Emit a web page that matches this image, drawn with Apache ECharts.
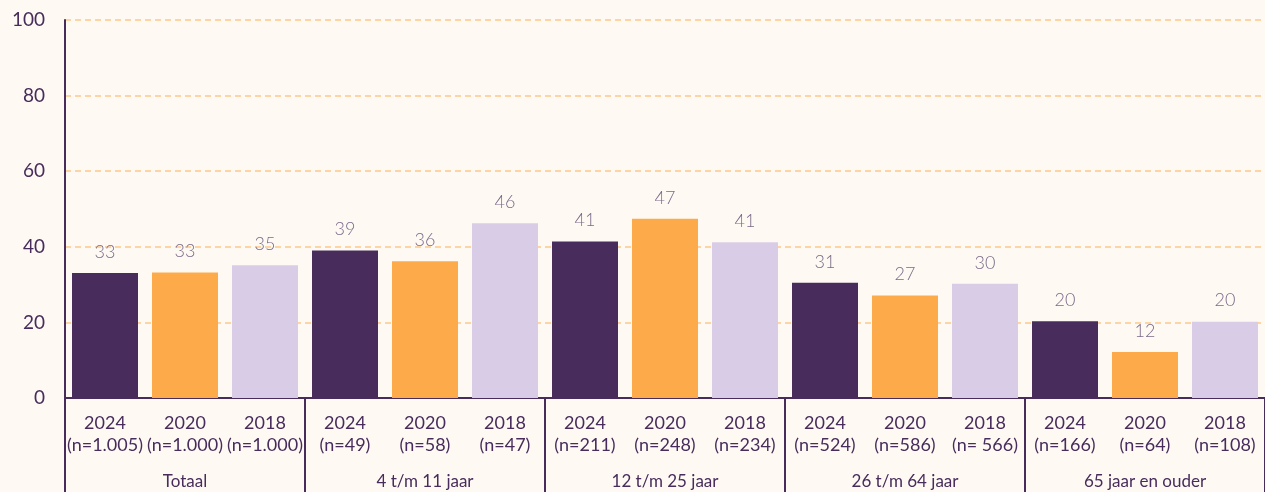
<!DOCTYPE html>
<html>
<head>
<meta charset="utf-8">
<script src="https://cdn.jsdelivr.net/npm/echarts@6/dist/echarts.min.js"></script>
<style>
  html, body { margin: 0; padding: 0; background: #fefaf3; }
  #chart { width: 1265px; height: 492px; }
</style>
</head>
<body>
<div id="chart"></div>
<script>
// jaren en steekproefgrootte per staaf
const years = ['2024', '2020', '2018', '2024', '2020', '2018', '2024', '2020', '2018', '2024', '2020', '2018', '2024', '2020', '2018'];
const sizes = ['1.005', '1.000', '1.000', '49', '58', '47', '211', '248', '234', '524', '586', ' 566', '166', '64', '108'];
// leeftijdsgroepen
const groups = ['Totaal', '4 t/m 11 jaar', '12 t/m 25 jaar', '26 t/m 64 jaar', '65 jaar en ouder'];
// percentages
const values = [33.1, 33.2, 35.1, 39.0, 36.2, 46.2, 41.4, 47.4, 41.2, 30.5, 27.1, 30.2, 20.3, 12.2, 20.2];
const yTicks = [0, 20, 40, 60, 80, 100];

const colors = ['#472c5c', '#fdab4a', '#d9cce7'];
const ink = '#472c5c';

const categories = years.map((y, i) => y + '\n(n=' + sizes[i] + ')');

let myChart = echarts.init(document.getElementById('chart'));

myChart.setOption({
    backgroundColor: '#fefaf3',
    textStyle: { fontFamily: 'Lato' },
    grid: { left: 65, right: 0, top: 20, bottom: 94 },
    xAxis: [
        {
            type: 'category',
            data: categories,
            axisLine: { lineStyle: { color: ink, width: 2 } },
            axisTick: { show: false },
            axisLabel: { color: ink, fontSize: 18, lineHeight: 22, margin: 14, interval: 0 }
        },
        {
            type: 'category',
            position: 'bottom',
            data: groups,
            axisLine: { show: false },
            axisTick: { show: true, length: 94, lineStyle: { color: ink, width: 2 } },
            axisLabel: { color: ink, fontSize: 17, margin: 75, interval: 0 }
        }
    ],
    yAxis: {
        type: 'value',
        min: yTicks[0],
        max: yTicks[yTicks.length - 1],
        interval: 20,
        axisLine: { show: true, lineStyle: { color: ink, width: 2 } },
        axisTick: { show: false },
        axisLabel: { color: ink, fontSize: 19, margin: 20 },
        splitLine: { lineStyle: { color: '#fdc98a', width: 1.5, type: [6, 4] } }
    },
    series: [
        {
            type: 'bar',
            xAxisIndex: 0,
            data: values,
            barWidth: 66,
            itemStyle: {
                color: p => colors[p.dataIndex % 3]
            },
            label: {
                show: true,
                position: 'top',
                distance: 12,
                color: '#7a6a8a',
                fontSize: 18,
                fontWeight: 300,
                formatter: p => Math.round(p.value)
            }
        }
    ]
});
</script>
</body>
</html>
